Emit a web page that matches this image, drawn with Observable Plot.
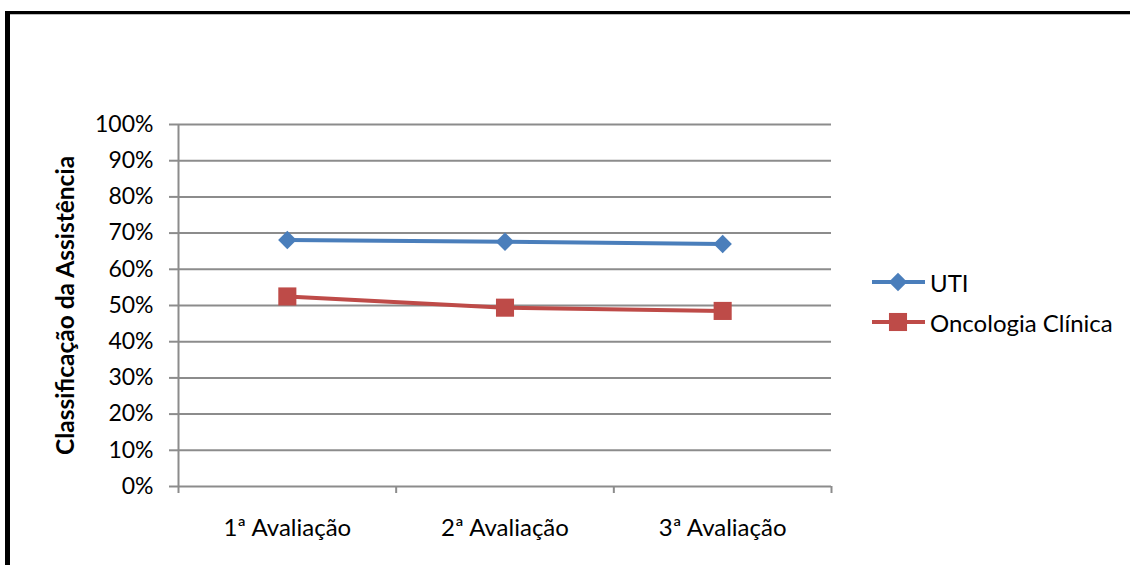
<!DOCTYPE html>
<html>
<head>
<meta charset="utf-8">
<script src="https://cdn.jsdelivr.net/npm/d3@7"></script>
<script src="https://cdn.jsdelivr.net/npm/@observablehq/plot@0.6"></script>
<style>
  html, body { margin: 0; padding: 0; background: #fff; overflow: hidden; width: 1130px; height: 565px; }
  #wrap { position: relative; width: 1130px; height: 565px; font-family: Lato, "Liberation Sans", sans-serif; }
  #frame { position: absolute; left: 5px; top: 11px; width: 1300px; height: 800px;
           border-top: 3px solid #000; border-left: 5px solid #000; }
  #frame::after { content: ""; position: absolute; left: 0; top: 0; width: 100%; height: 1px; background: #bbb; }
  #chart { position: absolute; left: 0; top: 0; }
  #legend { position: absolute; left: 868px; top: 262px; }
  .lg-row { display: flex; align-items: center; height: 40px; font-size: 24px; color: #000; }
  .lg-row svg { margin-right: 4px; }
</style>
</head>
<body>
<div id="wrap">
  <div id="frame"></div>
  <div id="chart"></div>
  <div id="legend"></div>
</div>
<script>
// ---- data ----
const categories = ["1ª Avaliação", "2ª Avaliação", "3ª Avaliação"];
const seriesNames = ["UTI", "Oncologia Clínica"];
const utiValues = [0.681, 0.676, 0.670];
const oncoValues = [0.525, 0.494, 0.485];
const yTicks = [0, 0.1, 0.2, 0.3, 0.4, 0.5, 0.6, 0.7, 0.8, 0.9, 1.0];
const yTitle = "Classificação da Assistência";
const colors = ["#4A7EBB", "#BE4B48"];
const symbols = ["diamond2", "square"];

const rows = [];
categories.forEach((c, i) => {
  rows.push({cat: c, xi: i + 0.5, series: seriesNames[0], value: utiValues[i]});
  rows.push({cat: c, xi: i + 0.5, series: seriesNames[1], value: oncoValues[i]});
});
const boundaries = d3.range(categories.length + 1);
const centers = categories.map((c, i) => i + 0.5);

const gray = "#8c8c8c";
const chart = Plot.plot({
  width: 1130,
  height: 565,
  marginLeft: 178,
  marginRight: 299,
  marginTop: 124,
  marginBottom: 79,
  style: { fontFamily: "Lato, 'Liberation Sans', sans-serif", fontSize: "23px", color: "#000", background: "transparent" },
  x: { domain: [0, categories.length], axis: null },
  y: { domain: [0, 1], axis: null },
  color: { domain: seriesNames, range: colors },
  symbol: { domain: seriesNames, range: symbols },
  marks: [
    Plot.gridY(yTicks, { stroke: gray, strokeOpacity: 1, strokeWidth: 2 }),
    Plot.ruleX([0], { stroke: gray, strokeWidth: 2 }),
    Plot.axisY(yTicks, { tickFormat: d => Math.round(d * 100) + "%", tickSize: 9, tickPadding: 16,
      stroke: gray, strokeWidth: 2, fill: "#000", label: null }),
    Plot.text([yTitle], { frameAnchor: "left", rotate: -90, dx: -112, textAnchor: "middle", lineAnchor: "middle",
      fontWeight: "bold", fontSize: 24.5, fill: "#000" }),
    Plot.axisX(boundaries, { tickSize: 7, tickFormat: () => "", stroke: gray, strokeWidth: 2, label: null }),
    Plot.axisX(centers, { tickSize: 0, tickPadding: 32, fontSize: 24, tickFormat: d => categories[Math.floor(d)], fill: "#000", label: null }),
    Plot.line(rows, { x: "xi", y: "value", z: "series", stroke: "series", strokeWidth: 4 }),
    Plot.dot(rows.filter(d => d.series === seriesNames[0]), { x: "xi", y: "value", symbol: "series", fill: "series", r: 8.3, stroke: null }),
    Plot.dot(rows.filter(d => d.series === seriesNames[1]), { x: "xi", y: "value", symbol: "series", fill: "series", r: 10.2, stroke: null })
  ]
});
document.getElementById("chart").appendChild(chart);

// ---- legend ----
const legend = d3.select("#legend");
seriesNames.forEach((name, i) => {
  const row = legend.append("div").attr("class", "lg-row");
  const svg = row.append("svg").attr("width", 58).attr("height", 24);
  svg.append("line").attr("x1", 4).attr("x2", 57).attr("y1", 12).attr("y2", 12)
    .attr("stroke", colors[i]).attr("stroke-width", 4);
  const sym = i === 0 ? d3.symbolDiamond2 : d3.symbolSquare;
  const size = i === 0 ? Math.PI * 8.3 * 8.3 : Math.PI * 10.2 * 10.2;
  svg.append("path").attr("transform", "translate(30,12)")
    .attr("d", d3.symbol(sym, size)()).attr("fill", colors[i]);
  row.append("span").text(name);
});
</script>
</body>
</html>
